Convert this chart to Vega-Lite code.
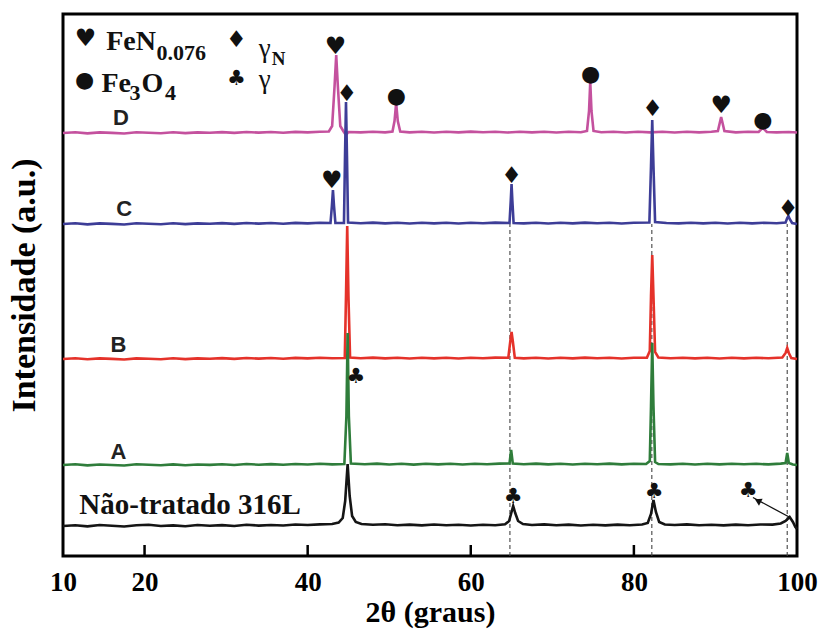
{
  "$schema": "https://vega.github.io/schema/vega-lite/v6.json",
  "autosize": {"type": "none"},
  "width": 734,
  "height": 542,
  "padding": {"left": 63, "top": 14, "right": 25, "bottom": 74},
  "background": "#ffffff",
  "config": {"view": {"stroke": "#000", "strokeWidth": 3}},
  "datasets": {
    "tr": [
      {"s":"U","x":10,"y":30},{"s":"U","x":11.5,"y":30.8},{"s":"U","x":13,"y":29.6},{"s":"U","x":14.5,"y":31},{"s":"U","x":16,"y":30.2},{"s":"U","x":17.5,"y":29.5},{"s":"U","x":19,"y":30.7},{"s":"U","x":20.5,"y":31.2},{"s":"U","x":22,"y":30},{"s":"U","x":23.5,"y":30.6},{"s":"U","x":25,"y":29.7},{"s":"U","x":26.5,"y":31},{"s":"U","x":28,"y":30.3},{"s":"U","x":29.5,"y":30.9},{"s":"U","x":31,"y":30},{"s":"U","x":32.5,"y":31.3},{"s":"U","x":34,"y":30.4},{"s":"U","x":35.5,"y":31},{"s":"U","x":37,"y":30.5},{"s":"U","x":38.5,"y":31.5},{"s":"U","x":40,"y":31},{"s":"U","x":41.5,"y":31.6},{"s":"U","x":43,"y":32},{"s":"U","x":43.8,"y":33.5},{"s":"U","x":44.3,"y":38},{"s":"U","x":44.6,"y":55},{"s":"U","x":44.9,"y":92},{"s":"U","x":45.15,"y":60},{"s":"U","x":45.45,"y":40},{"s":"U","x":45.9,"y":34},{"s":"U","x":46.6,"y":32},{"s":"U","x":48,"y":31.2},{"s":"U","x":49.5,"y":31.8},{"s":"U","x":51,"y":30.7},{"s":"U","x":52.5,"y":31.4},{"s":"U","x":54,"y":30.6},{"s":"U","x":55.5,"y":31.5},{"s":"U","x":57,"y":30.8},{"s":"U","x":58.5,"y":31.2},{"s":"U","x":60,"y":30.5},{"s":"U","x":61.5,"y":31.3},{"s":"U","x":63,"y":30.8},{"s":"U","x":64.2,"y":31.8},{"s":"U","x":64.7,"y":35},{"s":"U","x":65.0,"y":44},{"s":"U","x":65.2,"y":50},{"s":"U","x":65.45,"y":43},{"s":"U","x":65.8,"y":35},{"s":"U","x":66.4,"y":32},{"s":"U","x":67.5,"y":31},{"s":"U","x":69,"y":31.6},{"s":"U","x":70.5,"y":30.7},{"s":"U","x":72,"y":31.4},{"s":"U","x":73.5,"y":30.5},{"s":"U","x":75,"y":31.2},{"s":"U","x":76.5,"y":30.6},{"s":"U","x":78,"y":31.4},{"s":"U","x":79.5,"y":30.8},{"s":"U","x":81,"y":31.5},{"s":"U","x":81.7,"y":33},{"s":"U","x":82.1,"y":42},{"s":"U","x":82.4,"y":56},{"s":"U","x":82.7,"y":44},{"s":"U","x":83.1,"y":34},{"s":"U","x":83.8,"y":31.5},{"s":"U","x":85,"y":31},{"s":"U","x":86.5,"y":31.6},{"s":"U","x":88,"y":30.7},{"s":"U","x":89.5,"y":31.3},{"s":"U","x":91,"y":30.6},{"s":"U","x":92.5,"y":31.4},{"s":"U","x":94,"y":30.8},{"s":"U","x":95.5,"y":31.5},{"s":"U","x":97,"y":31.4},{"s":"U","x":98,"y":32.5},{"s":"U","x":98.6,"y":35},{"s":"U","x":99.1,"y":39},{"s":"U","x":99.5,"y":34},{"s":"U","x":99.8,"y":29},{"s":"U","x":100,"y":27},

      {"s":"A","x":10,"y":91},{"s":"A","x":11.5,"y":91.8},{"s":"A","x":13,"y":90.6},{"s":"A","x":14.5,"y":91.5},{"s":"A","x":16,"y":91},{"s":"A","x":17.5,"y":90.5},{"s":"A","x":19,"y":91.7},{"s":"A","x":20.5,"y":91.2},{"s":"A","x":22,"y":90.8},{"s":"A","x":23.5,"y":91.6},{"s":"A","x":25,"y":90.7},{"s":"A","x":26.5,"y":91.5},{"s":"A","x":28,"y":91.1},{"s":"A","x":29.5,"y":91.8},{"s":"A","x":31,"y":91},{"s":"A","x":32.5,"y":92},{"s":"A","x":34,"y":91.3},{"s":"A","x":35.5,"y":91.9},{"s":"A","x":37,"y":91.2},{"s":"A","x":38.5,"y":92},{"s":"A","x":40,"y":91.5},{"s":"A","x":41.5,"y":92.2},{"s":"A","x":43,"y":91.6},{"s":"A","x":44.5,"y":92},{"s":"A","x":44.75,"y":140},{"s":"A","x":44.9,"y":223},{"s":"A","x":45.05,"y":140},{"s":"A","x":45.3,"y":92.5},{"s":"A","x":47,"y":91.8},{"s":"A","x":48.5,"y":92.4},{"s":"A","x":50,"y":91.5},{"s":"A","x":51.5,"y":92.2},{"s":"A","x":53,"y":91.4},{"s":"A","x":54.5,"y":92.3},{"s":"A","x":56,"y":91.6},{"s":"A","x":57.5,"y":92.2},{"s":"A","x":59,"y":91.5},{"s":"A","x":60.5,"y":92.3},{"s":"A","x":62,"y":91.7},{"s":"A","x":63.5,"y":92.4},{"s":"A","x":64.75,"y":92.5},{"s":"A","x":64.95,"y":106},{"s":"A","x":65.15,"y":92.5},{"s":"A","x":66.5,"y":91.8},{"s":"A","x":68,"y":92.4},{"s":"A","x":69.5,"y":91.6},{"s":"A","x":71,"y":92.2},{"s":"A","x":72.5,"y":91.5},{"s":"A","x":74,"y":92.3},{"s":"A","x":75.5,"y":91.7},{"s":"A","x":77,"y":92.4},{"s":"A","x":78.5,"y":91.6},{"s":"A","x":80,"y":92.2},{"s":"A","x":81.5,"y":92},{"s":"A","x":81.95,"y":95},{"s":"A","x":82.1,"y":150},{"s":"A","x":82.25,"y":213},{"s":"A","x":82.4,"y":150},{"s":"A","x":82.6,"y":94},{"s":"A","x":83,"y":92},{"s":"A","x":84.5,"y":91.6},{"s":"A","x":86,"y":92.3},{"s":"A","x":87.5,"y":91.5},{"s":"A","x":89,"y":92.2},{"s":"A","x":90.5,"y":91.6},{"s":"A","x":92,"y":92.3},{"s":"A","x":93.5,"y":91.7},{"s":"A","x":95,"y":92.2},{"s":"A","x":96.5,"y":91.6},{"s":"A","x":98,"y":92.4},{"s":"A","x":98.6,"y":93},{"s":"A","x":98.8,"y":103},{"s":"A","x":99.0,"y":93},{"s":"A","x":99.5,"y":91.5},{"s":"A","x":100,"y":91},

      {"s":"B","x":10,"y":197},{"s":"B","x":11.5,"y":197.8},{"s":"B","x":13,"y":196.7},{"s":"B","x":14.5,"y":197.6},{"s":"B","x":16,"y":197.1},{"s":"B","x":17.5,"y":196.5},{"s":"B","x":19,"y":197.6},{"s":"B","x":20.5,"y":197.2},{"s":"B","x":22,"y":196.8},{"s":"B","x":23.5,"y":197.7},{"s":"B","x":25,"y":196.9},{"s":"B","x":26.5,"y":197.6},{"s":"B","x":28,"y":197.2},{"s":"B","x":29.5,"y":197.9},{"s":"B","x":31,"y":197.1},{"s":"B","x":32.5,"y":198},{"s":"B","x":34,"y":197.4},{"s":"B","x":35.5,"y":198},{"s":"B","x":37,"y":197.3},{"s":"B","x":38.5,"y":198.1},{"s":"B","x":40,"y":197.6},{"s":"B","x":41.5,"y":198.2},{"s":"B","x":43,"y":197.7},{"s":"B","x":44.55,"y":198},{"s":"B","x":44.7,"y":260},{"s":"B","x":44.85,"y":330},{"s":"B","x":45.0,"y":260},{"s":"B","x":45.2,"y":198.5},{"s":"B","x":46.5,"y":197.8},{"s":"B","x":48,"y":198.4},{"s":"B","x":49.5,"y":197.6},{"s":"B","x":51,"y":198.2},{"s":"B","x":52.5,"y":197.5},{"s":"B","x":54,"y":198.3},{"s":"B","x":55.5,"y":197.6},{"s":"B","x":57,"y":198.2},{"s":"B","x":58.5,"y":197.5},{"s":"B","x":60,"y":198.3},{"s":"B","x":61.5,"y":197.7},{"s":"B","x":63,"y":198.4},{"s":"B","x":64.6,"y":198.2},{"s":"B","x":64.85,"y":215},{"s":"B","x":65.0,"y":224},{"s":"B","x":65.15,"y":215},{"s":"B","x":65.4,"y":198.2},{"s":"B","x":66.5,"y":197.6},{"s":"B","x":68,"y":198.3},{"s":"B","x":69.5,"y":197.5},{"s":"B","x":71,"y":198.2},{"s":"B","x":72.5,"y":197.6},{"s":"B","x":74,"y":198.4},{"s":"B","x":75.5,"y":197.7},{"s":"B","x":77,"y":198.3},{"s":"B","x":78.5,"y":197.5},{"s":"B","x":80,"y":198.2},{"s":"B","x":81.6,"y":198.4},{"s":"B","x":81.95,"y":205},{"s":"B","x":82.1,"y":260},{"s":"B","x":82.25,"y":301},{"s":"B","x":82.4,"y":260},{"s":"B","x":82.6,"y":204},{"s":"B","x":83,"y":198.5},{"s":"B","x":84.5,"y":197.7},{"s":"B","x":86,"y":198.3},{"s":"B","x":87.5,"y":197.6},{"s":"B","x":89,"y":198.2},{"s":"B","x":90.5,"y":197.5},{"s":"B","x":92,"y":198.3},{"s":"B","x":93.5,"y":197.6},{"s":"B","x":95,"y":198.2},{"s":"B","x":96.5,"y":197.7},{"s":"B","x":98.2,"y":198.5},{"s":"B","x":98.6,"y":203},{"s":"B","x":98.8,"y":208},{"s":"B","x":99.0,"y":203},{"s":"B","x":99.3,"y":198},{"s":"B","x":100,"y":197},

      {"s":"C","x":10,"y":332},{"s":"C","x":11.5,"y":332.8},{"s":"C","x":13,"y":331.6},{"s":"C","x":14.5,"y":332.6},{"s":"C","x":16,"y":332.1},{"s":"C","x":17.5,"y":331.5},{"s":"C","x":19,"y":332.7},{"s":"C","x":20.5,"y":332.2},{"s":"C","x":22,"y":331.8},{"s":"C","x":23.5,"y":332.7},{"s":"C","x":25,"y":331.9},{"s":"C","x":26.5,"y":332.6},{"s":"C","x":28,"y":332.2},{"s":"C","x":29.5,"y":332.9},{"s":"C","x":31,"y":332.1},{"s":"C","x":32.5,"y":333},{"s":"C","x":34,"y":332.4},{"s":"C","x":35.5,"y":333},{"s":"C","x":37,"y":332.3},{"s":"C","x":38.5,"y":333.1},{"s":"C","x":40,"y":332.6},{"s":"C","x":41.5,"y":333.2},{"s":"C","x":42.8,"y":333},{"s":"C","x":42.97,"y":350},{"s":"C","x":43.1,"y":366},{"s":"C","x":43.23,"y":350},{"s":"C","x":43.4,"y":333},{"s":"C","x":44.45,"y":333},{"s":"C","x":44.58,"y":400},{"s":"C","x":44.7,"y":454},{"s":"C","x":44.82,"y":400},{"s":"C","x":44.95,"y":333.5},{"s":"C","x":46.5,"y":332.8},{"s":"C","x":48,"y":333.4},{"s":"C","x":49.5,"y":332.6},{"s":"C","x":51,"y":333.2},{"s":"C","x":52.5,"y":332.5},{"s":"C","x":54,"y":333.3},{"s":"C","x":55.5,"y":332.6},{"s":"C","x":57,"y":333.2},{"s":"C","x":58.5,"y":332.5},{"s":"C","x":60,"y":333.3},{"s":"C","x":61.5,"y":332.7},{"s":"C","x":63,"y":333.4},{"s":"C","x":64.75,"y":333},{"s":"C","x":64.9,"y":355},{"s":"C","x":65.0,"y":372},{"s":"C","x":65.1,"y":355},{"s":"C","x":65.25,"y":333},{"s":"C","x":66.5,"y":332.6},{"s":"C","x":68,"y":333.3},{"s":"C","x":69.5,"y":332.5},{"s":"C","x":71,"y":333.2},{"s":"C","x":72.5,"y":332.6},{"s":"C","x":74,"y":333.4},{"s":"C","x":75.5,"y":332.7},{"s":"C","x":77,"y":333.3},{"s":"C","x":78.5,"y":332.5},{"s":"C","x":80,"y":333.2},{"s":"C","x":81.9,"y":333.5},{"s":"C","x":82.1,"y":390},{"s":"C","x":82.25,"y":436},{"s":"C","x":82.4,"y":390},{"s":"C","x":82.6,"y":334},{"s":"C","x":84,"y":333},{"s":"C","x":85.5,"y":332.6},{"s":"C","x":87,"y":333.3},{"s":"C","x":88.5,"y":332.6},{"s":"C","x":90,"y":333.2},{"s":"C","x":91.5,"y":332.5},{"s":"C","x":93,"y":333.3},{"s":"C","x":94.5,"y":332.6},{"s":"C","x":96,"y":333.2},{"s":"C","x":97.5,"y":332.7},{"s":"C","x":98.6,"y":333.5},{"s":"C","x":98.8,"y":338},{"s":"C","x":98.95,"y":340},{"s":"C","x":99.1,"y":337},{"s":"C","x":99.4,"y":333},{"s":"C","x":100,"y":332},

      {"s":"D","x":10,"y":423},{"s":"D","x":11.5,"y":423.8},{"s":"D","x":13,"y":422.6},{"s":"D","x":14.5,"y":423.6},{"s":"D","x":16,"y":423.1},{"s":"D","x":17.5,"y":422.5},{"s":"D","x":19,"y":423.7},{"s":"D","x":20.5,"y":423.2},{"s":"D","x":22,"y":422.8},{"s":"D","x":23.5,"y":423.7},{"s":"D","x":25,"y":422.9},{"s":"D","x":26.5,"y":423.6},{"s":"D","x":28,"y":423.2},{"s":"D","x":29.5,"y":423.9},{"s":"D","x":31,"y":423.1},{"s":"D","x":32.5,"y":424},{"s":"D","x":34,"y":423.4},{"s":"D","x":35.5,"y":424},{"s":"D","x":37,"y":423.3},{"s":"D","x":38.5,"y":424.1},{"s":"D","x":40,"y":423.6},{"s":"D","x":41.5,"y":424.2},{"s":"D","x":42.6,"y":424.5},{"s":"D","x":43.0,"y":430},{"s":"D","x":43.3,"y":470},{"s":"D","x":43.5,"y":501},{"s":"D","x":43.7,"y":470},{"s":"D","x":44.0,"y":430},{"s":"D","x":44.4,"y":424.5},{"s":"D","x":44.7,"y":421},{"s":"D","x":45.0,"y":424},{"s":"D","x":46.5,"y":423.6},{"s":"D","x":48,"y":424.2},{"s":"D","x":49.5,"y":423.6},{"s":"D","x":50.4,"y":424.5},{"s":"D","x":50.65,"y":435},{"s":"D","x":50.85,"y":453},{"s":"D","x":51.05,"y":435},{"s":"D","x":51.35,"y":424.5},{"s":"D","x":52.5,"y":423.6},{"s":"D","x":54,"y":424.3},{"s":"D","x":55.5,"y":423.5},{"s":"D","x":57,"y":424.2},{"s":"D","x":58.5,"y":423.6},{"s":"D","x":60,"y":424.4},{"s":"D","x":61.5,"y":423.7},{"s":"D","x":63,"y":424.3},{"s":"D","x":64.5,"y":423.5},{"s":"D","x":66,"y":424.2},{"s":"D","x":67.5,"y":423.6},{"s":"D","x":69,"y":424.3},{"s":"D","x":70.5,"y":423.5},{"s":"D","x":72,"y":424.2},{"s":"D","x":73.5,"y":423.7},{"s":"D","x":74.25,"y":425},{"s":"D","x":74.5,"y":445},{"s":"D","x":74.65,"y":474},{"s":"D","x":74.8,"y":445},{"s":"D","x":75.05,"y":425},{"s":"D","x":76,"y":423.7},{"s":"D","x":77.5,"y":424.3},{"s":"D","x":79,"y":423.5},{"s":"D","x":80.5,"y":424.2},{"s":"D","x":82,"y":423.6},{"s":"D","x":83.5,"y":424.3},{"s":"D","x":85,"y":423.5},{"s":"D","x":86.5,"y":424.2},{"s":"D","x":88,"y":423.6},{"s":"D","x":89.5,"y":424.3},{"s":"D","x":90.3,"y":425},{"s":"D","x":90.5,"y":432},{"s":"D","x":90.7,"y":439},{"s":"D","x":90.9,"y":432},{"s":"D","x":91.1,"y":425},{"s":"D","x":92.5,"y":423.6},{"s":"D","x":94,"y":424.2},{"s":"D","x":95.3,"y":424},{"s":"D","x":95.6,"y":426.5},{"s":"D","x":95.8,"y":429},{"s":"D","x":96.0,"y":426.5},{"s":"D","x":96.3,"y":424},{"s":"D","x":97.5,"y":423.6},{"s":"D","x":99,"y":424},{"s":"D","x":100,"y":423.5}
    ],
    "dash": [
      {"x": 64.8, "y": 0, "y2": 332},
      {"x": 82.2, "y": 0, "y2": 332},
      {"x": 98.8, "y": 0, "y2": 332}
    ],
    "ticks": [
      {"x": 20, "y": 5.5},
      {"x": 40, "y": 5.5},
      {"x": 60, "y": 5.5},
      {"x": 80, "y": 5.5}
    ],
    "sym": [
      {"x": 43.4, "y": 508.7, "t": "♥"},
      {"x": 44.8, "y": 462.5, "t": "♦"},
      {"x": 50.88, "y": 459.7, "t": "●"},
      {"x": 74.7, "y": 481.7, "t": "●"},
      {"x": 82.3, "y": 446.7, "t": "♦"},
      {"x": 90.7, "y": 449.7, "t": "♥"},
      {"x": 95.8, "y": 435.7, "t": "●"},
      {"x": 42.95, "y": 375, "t": "♥"},
      {"x": 65.0, "y": 379.7, "t": "♦"},
      {"x": 98.9, "y": 346.7, "t": "♦"},
      {"x": 45.9, "y": 178.7, "t": "♣"},
      {"x": 65.2, "y": 58.7, "t": "♣"},
      {"x": 82.5, "y": 63.7, "t": "♣"},
      {"x": 94.0, "y": 64.7, "t": "♣"},
      {"x": 12.76, "y": 517.4, "t": "♥"},
      {"x": 31.25, "y": 515.7, "t": "♦"},
      {"x": 12.64, "y": 475.7, "t": "●"},
      {"x": 31.25, "y": 477.4, "t": "♣"}
    ],
    "txt": [
      {"x": 15.3, "y": 505.7, "t": "FeN", "k": "main"},
      {"x": 14.72, "y": 463.7, "t": "Fe", "k": "main"},
      {"x": 19.63, "y": 463.7, "t": "O", "k": "main"},
      {"x": 21.47, "y": 495.7, "t": "0.076", "k": "sub"},
      {"x": 18.16, "y": 455.7, "t": "3", "k": "sub"},
      {"x": 22.5, "y": 455.7, "t": "4", "k": "sub"},
      {"x": 34.0, "y": 498.7, "t": "γ", "k": "greek"},
      {"x": 34.0, "y": 467.7, "t": "γ", "k": "greek"},
      {"x": 35.6, "y": 490.7, "t": "N", "k": "gsub"},
      {"x": 12.0, "y": 42.5, "t": "Não-tratado 316L", "k": "sample"}
    ],
    "panel": [
      {"x": 17.1, "y": 437.7, "t": "D"},
      {"x": 17.5, "y": 346.7, "t": "C"},
      {"x": 16.8, "y": 210.7, "t": "B"},
      {"x": 16.8, "y": 103.7, "t": "A"}
    ],
    "arrow": [
      {"x": 99.1, "y": 38.7, "x2": 94.6, "y2": 58.5}
    ],
    "head": [
      {"x": 95.2, "y": 55.3}
    ]
  },
  "encoding": {
    "x": {
      "field": "x", "type": "quantitative",
      "scale": {"domain": [10, 100], "nice": false, "zero": false},
      "axis": {
        "values": [10, 20, 40, 60, 80, 100],
        "title": "2θ (graus)",
        "grid": false, "domain": false, "ticks": false,
        "labelFont": "Liberation Serif", "labelFontSize": 27, "labelFontWeight": "bold",
        "labelColor": "#000", "labelPadding": 13, "labelFlush": false, "labelOverlap": false,
        "titleFont": "Liberation Serif", "titleFontSize": 30, "titleFontWeight": "bold",
        "titleColor": "#000", "titlePadding": 2
      }
    },
    "y": {
      "field": "y", "type": "quantitative",
      "scale": {"domain": [0, 542], "nice": false, "zero": false},
      "axis": {
        "title": "Intensidade (a.u.)",
        "labels": false, "ticks": false, "domain": false, "grid": false,
        "titleFont": "Liberation Serif", "titleFontSize": 34, "titleFontWeight": "bold",
        "titleColor": "#000", "titlePadding": 22
      }
    }
  },
  "layer": [
    {
      "data": {"name": "dash"},
      "mark": {"type": "rule", "color": "#444", "strokeWidth": 1.1, "strokeDash": [4, 3]},
      "encoding": {"y2": {"field": "y2"}}
    },
    {
      "data": {"name": "ticks"},
      "mark": {"type": "tick", "orient": "vertical", "color": "#000", "size": 11, "thickness": 2.5, "opacity": 1}
    },
    {
      "data": {"name": "tr"},
      "transform": [{"filter": "datum.s === 'D'"}],
      "mark": {"type": "line", "color": "#C4519E", "strokeWidth": 2.6, "interpolate": "linear"}
    },
    {
      "data": {"name": "tr"},
      "transform": [{"filter": "datum.s === 'B'"}],
      "mark": {"type": "line", "color": "#E5322A", "strokeWidth": 2.6}
    },
    {
      "data": {"name": "tr"},
      "transform": [{"filter": "datum.s === 'C'"}],
      "mark": {"type": "line", "color": "#3D3D97", "strokeWidth": 2.6}
    },
    {
      "data": {"name": "tr"},
      "transform": [{"filter": "datum.s === 'A'"}],
      "mark": {"type": "line", "color": "#2F7D3B", "strokeWidth": 2.6}
    },
    {
      "data": {"name": "tr"},
      "transform": [{"filter": "datum.s === 'U'"}],
      "mark": {"type": "line", "color": "#151515", "strokeWidth": 2.6}
    },
    {
      "data": {"name": "arrow"},
      "mark": {"type": "rule", "color": "#111", "strokeWidth": 1.3},
      "encoding": {"x2": {"field": "x2"}, "y2": {"field": "y2"}}
    },
    {
      "data": {"name": "head"},
      "mark": {"type": "point", "shape": "triangle-up", "filled": true, "color": "#111", "size": 60, "angle": 298, "opacity": 1}
    },
    {
      "data": {"name": "sym"},
      "mark": {"type": "text", "font": "DejaVu Sans", "align": "center", "baseline": "middle", "color": "#111"},
      "encoding": {
        "text": {"field": "t"},
        "size": {"field": "t", "type": "nominal", "legend": null,
                 "scale": {"domain": ["♥", "♦", "●", "♣"], "range": [24, 21, 20, 22]}}
      }
    },
    {
      "data": {"name": "txt"},
      "transform": [{"filter": "datum.k === 'main'"}],
      "mark": {"type": "text", "font": "Liberation Serif", "fontWeight": "bold", "fontSize": 28, "align": "left", "baseline": "alphabetic", "color": "#111"},
      "encoding": {"text": {"field": "t"}}
    },
    {
      "data": {"name": "txt"},
      "transform": [{"filter": "datum.k === 'sub'"}],
      "mark": {"type": "text", "font": "Liberation Serif", "fontWeight": "bold", "fontSize": 22, "align": "left", "baseline": "alphabetic", "color": "#111"},
      "encoding": {"text": {"field": "t"}}
    },
    {
      "data": {"name": "txt"},
      "transform": [{"filter": "datum.k === 'greek'"}],
      "mark": {"type": "text", "font": "Liberation Serif", "fontSize": 27, "align": "left", "baseline": "alphabetic", "color": "#111"},
      "encoding": {"text": {"field": "t"}}
    },
    {
      "data": {"name": "txt"},
      "transform": [{"filter": "datum.k === 'gsub'"}],
      "mark": {"type": "text", "font": "Liberation Serif", "fontWeight": "bold", "fontSize": 19, "align": "left", "baseline": "alphabetic", "color": "#111"},
      "encoding": {"text": {"field": "t"}}
    },
    {
      "data": {"name": "txt"},
      "transform": [{"filter": "datum.k === 'sample'"}],
      "mark": {"type": "text", "font": "Liberation Serif", "fontWeight": "bold", "fontSize": 29, "align": "left", "baseline": "alphabetic", "color": "#111"},
      "encoding": {"text": {"field": "t"}}
    },
    {
      "data": {"name": "panel"},
      "mark": {"type": "text", "font": "Liberation Sans", "fontWeight": "bold", "fontSize": 22, "align": "center", "baseline": "middle", "color": "#222"},
      "encoding": {"text": {"field": "t"}}
    }
  ]
}
